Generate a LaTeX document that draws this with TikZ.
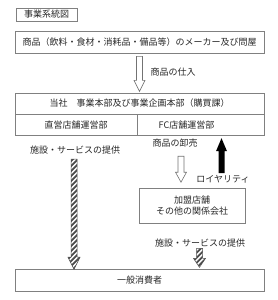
\documentclass[tikz,border=0pt]{standalone}
\usepackage{fontspec}
\setmainfont{Noto Sans CJK JP}

\begin{document}
\begin{tikzpicture}[x=1pt, y=-1pt, font=\fontsize{9}{11.5}\selectfont, text=black!85,
    box/.style={draw=gray, line width=0.8pt, inner sep=0pt, align=center},
    hollow/.style={draw=gray!90!black, fill=white, line width=0.6pt, line join=miter},
    hatched/.style={draw=black!70, line width=0.5pt,
        path picture={\foreach \k in {0,5,...,140}
            \draw[line width=1.8pt] (path picture bounding box.south west) ++(-10,20-\k) -- ++(40,-40);}}]
    \useasboundingbox (0,0) rectangle (278,300);

    % Boxes
    \node[box, minimum width=61, minimum height=13] (title) at (46.5,14.5) {事業系統図};
    \node[box, minimum width=249, minimum height=22] (maker) at (139.5,42)
        {商品（飲料・食材・消耗品・備品等）のメーカー及び問屋};
    \node[box, minimum width=249, minimum height=21] (hq) at (139.5,103.5)
        {当社　事業本部及び事業企画本部（購買課）};
    \node[box, minimum width=122, minimum height=21, anchor=north west] (direct) at (hq.south west) {直営店舗運営部};
    \node[box, minimum width=127, minimum height=21, anchor=north east] (fc) at (hq.south east) {};
    \node (fcname) at ([xshift=-14]fc.center) {FC店舗運営部};
    \node[box, minimum width=106, minimum height=35] (member) at (192,205.5) {加盟店舗\\その他の関係会社};
    \node[box, minimum width=249, minimum height=22] (consumer) at (139.5,280) {一般消費者};

    % Purchase of goods (maker -> hq)
    \draw[hollow] (maker.south) ++(-3,3) -- ++(0,24) -- ++(-2.5,0) -- ++(5.5,11)
        -- ++(5.5,-11) -- ++(-2.5,0) -- ++(0,-24) -- cycle;
    \node (buy) at (173,72) {商品の仕入};

    % Services from the directly run shops
    \draw[hatched] (direct.south) ++(-5,23) -- ++(0,98) -- ++(-3,0) -- ++(6,12)
        -- ++(6,-12) -- ++(-3,0) -- ++(0,-98) -- cycle;
    \node (serviceL) at (75,150) {施設・サービスの提供};

    % Wholesale (fc -> member)
    \draw[hollow] (fc.south) ++(-22.5,20) -- ++(0,16) -- ++(-2.5,0) -- ++(5.5,10)
        -- ++(5.5,-10) -- ++(-2.5,0) -- ++(0,-16) -- cycle;
    \node (sell) at (175,143) {商品の卸売};

    % Royalty (member -> fc)
    \fill[black] (fc.south) ++(21,2) -- ++(5.5,13) -- ++(-2.5,0) -- ++(0,22)
        -- ++(-6,0) -- ++(0,-22) -- ++(-2.5,0) -- cycle;
    \node (royalty) at (223,179) {ロイヤリティ};

    % Services from member shops
    \draw[hatched] (member.south) ++(4.5,25) -- ++(0,10) -- ++(-3,0) -- ++(6,9)
        -- ++(6,-9) -- ++(-3,0) -- ++(0,-10) -- cycle;
    \node (serviceR) at (200,243) {施設・サービスの提供};
\end{tikzpicture}
\end{document}
